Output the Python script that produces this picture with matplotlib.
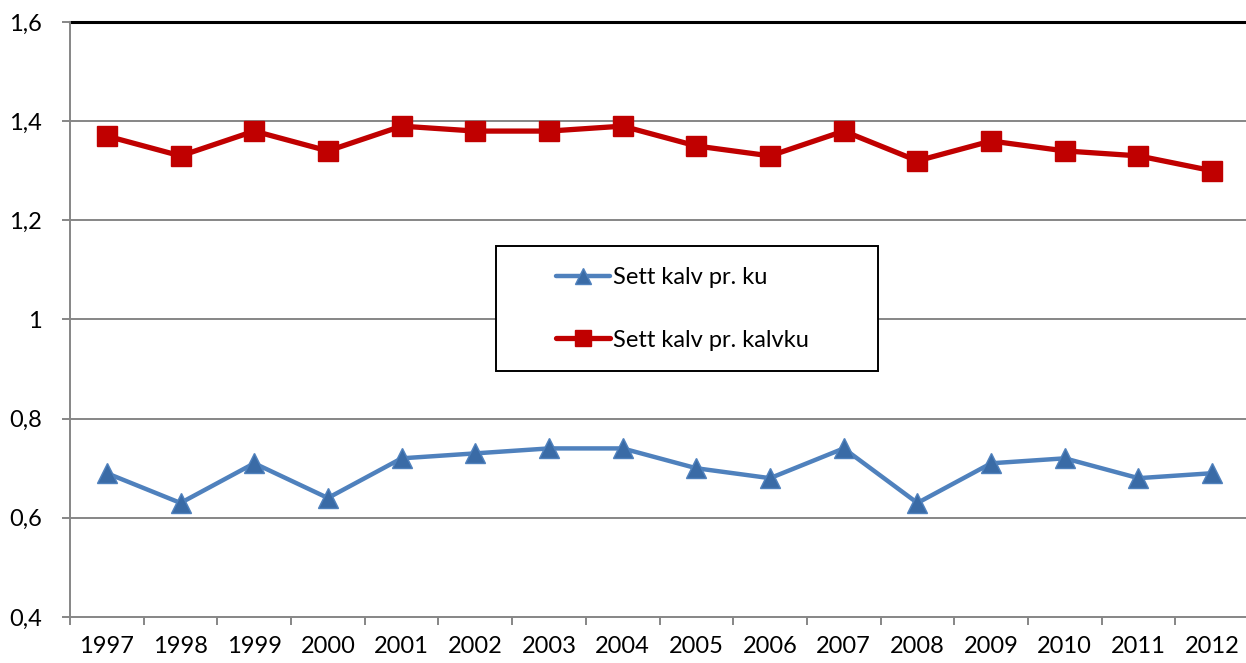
import matplotlib
matplotlib.use('Agg')
import matplotlib.pyplot as plt
import matplotlib.patches as patches
from matplotlib.ticker import FuncFormatter, FixedLocator
import numpy as np

years = ['1997', '1998', '1999', '2000', '2001', '2002', '2003', '2004',
         '2005', '2006', '2007', '2008', '2009', '2010', '2011', '2012']
kalv_pr_ku = [0.69, 0.63, 0.71, 0.64, 0.72, 0.73, 0.74, 0.74,
              0.70, 0.68, 0.74, 0.63, 0.71, 0.72, 0.68, 0.69]
kalv_pr_kalvku = [1.37, 1.33, 1.38, 1.34, 1.39, 1.38, 1.38, 1.39,
                  1.35, 1.33, 1.38, 1.32, 1.36, 1.34, 1.33, 1.30]

plt.rcParams['font.family'] = ['Lato', 'DejaVu Sans']

fig = plt.figure(figsize=(12.46, 6.63), dpi=100)
W = 1179
ax = fig.add_axes([70/1246, 46/663, W/1246, 595/663])

x = np.arange(len(years))
grid_col = '#868686'

for v in [0.6, 0.8, 1.0, 1.2, 1.4]:
    ax.axhline(v, color=grid_col, lw=1.4, zorder=1)
ax.axhline(1.6, color='black', lw=2.2, zorder=1, clip_on=False)

ax.plot(x, kalv_pr_ku, color='#4F81BD', lw=3.2, marker='^', ms=14,
        mfc='#3A6BA6', mec='#4F81BD', mew=1, label='Sett kalv pr. ku',
        solid_capstyle='round', zorder=3)
ax.plot(x, kalv_pr_kalvku, color='#C00000', lw=3.8, marker='s', ms=14,
        mfc='#C00000', mec='#C00000', label='Sett kalv pr. kalvku',
        solid_capstyle='round', zorder=3)

ax.set_xlim(-0.5, len(years) - 0.5)
ax.set_ylim(0.4, 1.6)
ax.set_yticks([0.4, 0.6, 0.8, 1.0, 1.2, 1.4, 1.6])
ax.yaxis.set_major_formatter(FuncFormatter(lambda v, p: ('%g' % v).replace('.', ',')))
ax.set_xticks(x)
ax.set_xticklabels(years)
ax.xaxis.set_minor_locator(FixedLocator(np.arange(-0.5, len(years), 1.0)))

ax.tick_params(axis='x', which='major', length=0, pad=14, labelsize=17)
ax.tick_params(axis='x', which='minor', length=6, width=1.4, color=grid_col)
ax.tick_params(axis='y', length=6, width=1.4, color=grid_col, pad=14, labelsize=17)

for s in ['top', 'right']:
    ax.spines[s].set_visible(False)
for s in ['left', 'bottom']:
    ax.spines[s].set_color(grid_col)
    ax.spines[s].set_linewidth(1.4)

# legend box
box = patches.Rectangle(((496-70)/W, (617-371)/595), 382/W, 125/595,
                        transform=ax.transAxes, facecolor='white',
                        edgecolor='black', lw=1.4, zorder=4)
ax.add_patch(box)
leg = ax.legend(loc='center left', bbox_to_anchor=((556-70)/W, (617-309)/595),
                frameon=False, fontsize=17, handlelength=2.3, handletextpad=0.1,
                labelspacing=1.75, borderpad=0, borderaxespad=0, markerscale=0.85)
leg.set_zorder(5)

fig.savefig('out.png', dpi=100)
